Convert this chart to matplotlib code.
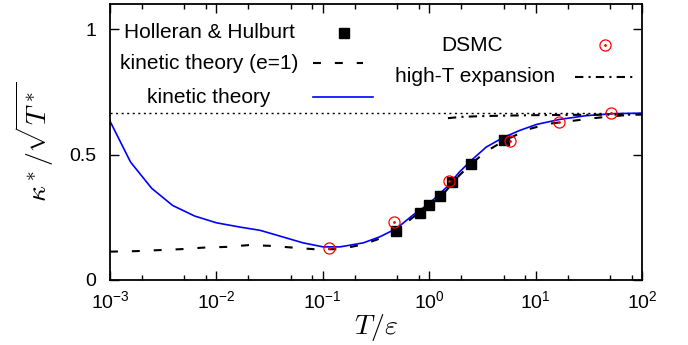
import math
import matplotlib
matplotlib.use('Agg')
import matplotlib.pyplot as plt
from matplotlib.ticker import LogLocator, FixedLocator, FuncFormatter

plt.rcParams['font.family'] = ['Liberation Sans', 'DejaVu Sans']
plt.rcParams['mathtext.fontset'] = 'cm'

# kinetic theory (blue line)
kt_T = [0.001, 0.00156, 0.00247, 0.00388, 0.00624, 0.01, 0.0166, 0.0257, 0.0367,
        0.0653, 0.1007, 0.145, 0.24, 0.343, 0.492, 0.705, 1.0, 1.45, 1.93, 2.49,
        3.44, 4.93, 7.08, 10.2, 16.8, 29.9, 53.2, 100]
kt_k = [0.633, 0.470, 0.365, 0.297, 0.255, 0.228, 0.211, 0.198, 0.179,
        0.148, 0.132, 0.132, 0.148, 0.172, 0.205, 0.259, 0.305, 0.369, 0.431, 0.477,
        0.530, 0.567, 0.596, 0.620, 0.640, 0.655, 0.663, 0.665]

# kinetic theory (e=1), dashed
ke_T = [0.001, 0.00175, 0.00284, 0.00471, 0.0075, 0.0125, 0.02, 0.033, 0.0525,
        0.0873, 0.145, 0.24, 0.343, 0.492, 0.705, 1.0, 1.45, 1.93, 2.49, 3.44,
        4.93, 7.08, 8.2, 13.5, 37, 62, 100]
ke_k = [0.113, 0.115, 0.119, 0.123, 0.129, 0.132, 0.139, 0.136, 0.129,
        0.122, 0.123, 0.142, 0.165, 0.196, 0.250, 0.295, 0.357, 0.418, 0.463, 0.513,
        0.552, 0.585, 0.599, 0.623, 0.646, 0.655, 0.662]

# high-T expansion
ht_T = [1.5, 2, 3, 5, 10, 20, 50, 100]
ht_k = [0.645, 0.650, 0.653, 0.655, 0.657, 0.658, 0.659, 0.659]

# Holleran & Hulburt
hh_T = [0.49, 0.826, 0.99, 1.256, 1.65, 2.49, 5.0]
hh_k = [0.196, 0.268, 0.297, 0.335, 0.390, 0.464, 0.559]

# DSMC
ds_T = [0.114, 0.465, 1.535, 5.7, 16.5, 51.4]
ds_k = [0.126, 0.232, 0.395, 0.552, 0.628, 0.665]

limit = 2.0 / 3.0

fig = plt.figure(figsize=(6.88, 3.45), dpi=100)
ax = fig.add_axes([110 / 688, 65 / 345, 532 / 688, 276 / 345])

dash_e1 = (0, (3.8, 6.7))
dashdot = (0, (4.0, 2.5, 1.0, 2.5))

ax.axhline(limit, color='black', lw=1.0, ls=(0, (1.5, 2.5)))
ax.plot(ke_T, ke_k, color='black', lw=1.5, ls=dash_e1)
ax.plot(kt_T, kt_k, color='blue', lw=1.2)
ax.plot(ht_T, ht_k, color='black', lw=1.5, ls=dashdot)
ax.plot(hh_T, hh_k, ls='none', marker='s', ms=7.5, color='black')
ax.plot(ds_T, ds_k, ls='none', marker='o', ms=8, mfc='none', mec='red', mew=0.9)
ax.plot(ds_T, ds_k, ls='none', marker='.', ms=2, color='red')

ax.set_xscale('log')
ax.set_xlim(1e-3, 1e2)
ax.set_ylim(0, 1.1)

ax.xaxis.set_major_locator(LogLocator(base=10, numticks=10))
ax.xaxis.set_minor_locator(LogLocator(base=10, subs=(2.0, 5.0, 8.0), numticks=10))
ax.xaxis.set_major_formatter(FuncFormatter(
    lambda v, p: r'$\mathregular{10^{%d}}$' % round(math.log10(v))))
ax.xaxis.set_minor_formatter(FuncFormatter(lambda v, p: ''))
ax.yaxis.set_major_locator(FixedLocator([0, 0.5, 1]))
ax.yaxis.set_major_formatter(FuncFormatter(lambda v, p: {0: '0', 0.5: '0.5', 1: '1'}[v]))

ax.tick_params(which='both', direction='in', top=True, right=True, labelsize=14, width=1)
ax.tick_params(which='major', length=6.5)
ax.tick_params(which='minor', length=3.5)
ax.tick_params(axis='x', which='major', pad=7)
ax.tick_params(axis='y', which='major', pad=10)
for s in ax.spines.values():
    s.set_linewidth(1.3)

ax.set_xlabel(r'$T/\varepsilon$', fontsize=20, labelpad=0)
ax.set_ylabel(r'$\kappa^*/\sqrt{T^*}$', fontsize=20, labelpad=9)

# gnuplot-style key: centred text, sample to the right
fs = 15
tr = ax.transAxes
ax.text(0.186, 0.895, 'Holleran & Hulburt', fontsize=fs, ha='center', va='center', transform=tr)
ax.plot([0.44], [0.895], marker='s', ms=7.5, color='black', transform=tr, clip_on=False)
ax.text(0.186, 0.786, 'kinetic theory (e=1)', fontsize=fs, ha='center', va='center', transform=tr)
ax.plot([0.382, 0.476], [0.786, 0.786], color='black', lw=1.5, ls=dash_e1, transform=tr)
ax.text(0.186, 0.663, 'kinetic theory', fontsize=fs, ha='center', va='center', transform=tr)
ax.plot([0.382, 0.494], [0.663, 0.663], color='blue', lw=1.2, transform=tr)
ax.text(0.680, 0.851, 'DSMC', fontsize=fs, ha='center', va='center', transform=tr)
ax.plot([0.930], [0.851], marker='o', ms=8, mfc='none', mec='red', mew=0.9, transform=tr)
ax.plot([0.930], [0.851], marker='.', ms=2, color='red', transform=tr)
ax.text(0.686, 0.736, 'high-T expansion', fontsize=fs, ha='center', va='center', transform=tr)
ax.plot([0.874, 0.987], [0.736, 0.736], color='black', lw=1.5, ls=dashdot, transform=tr)

fig.savefig('out.png', dpi=100)
